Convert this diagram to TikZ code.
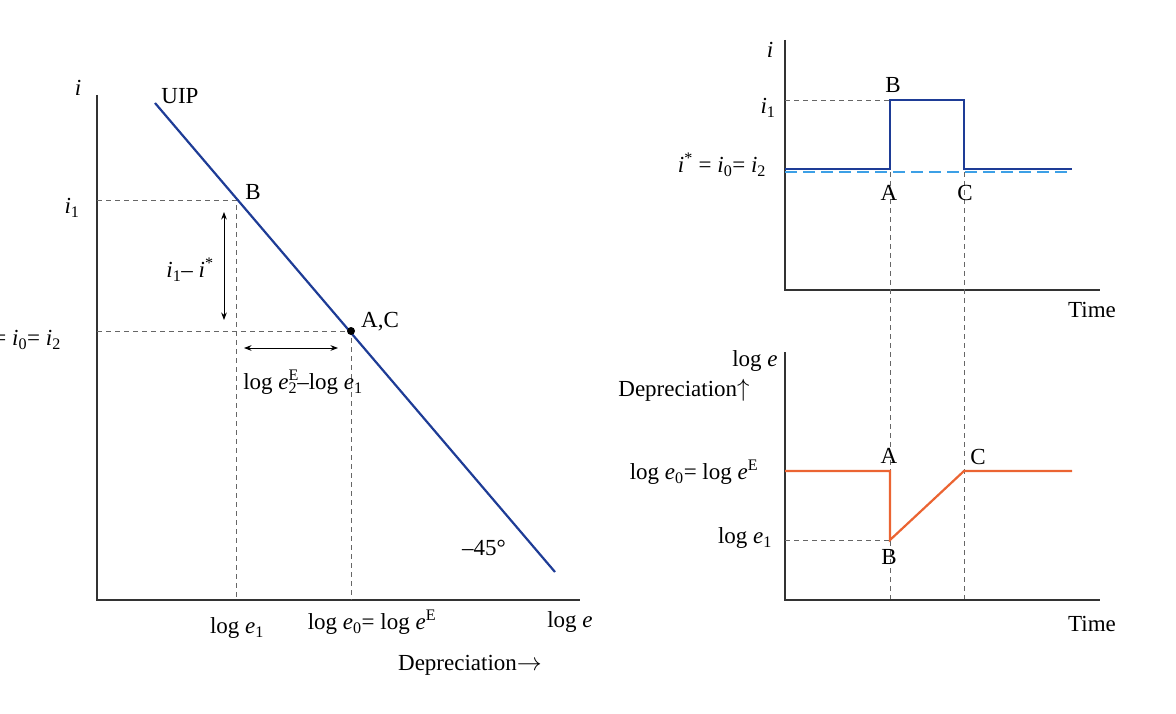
\documentclass[tikz,border=0pt]{standalone}
\usepackage{fontspec}
\setmainfont{Liberation Serif}
\usetikzlibrary{arrows.meta}
\newcommand{\lo}[1]{\textsubscript{#1}}
\newcommand{\hi}[1]{\textsuperscript{#1}}
\newcommand{\vi}{\textit{i}}
\newcommand{\ve}{\textit{e}}
\begin{document}
\begin{tikzpicture}[x=1pt,y=-1pt,font=\fontsize{23}{26}\selectfont,
 axis/.style={line width=1.3pt,black!80},
 guide/.style={dash pattern=on 5pt off 4pt,gray!80!black,line width=0.9pt},
 blueline/.style={line width=2.2pt,color={rgb,255:red,30;green,60;blue,150}},
 orangeline/.style={line width=2.2pt,color={rgb,255:red,235;green,100;blue,50}},
 dbl/.style={{Stealth}-{Stealth},line width=1pt},
 lab/.style={inner sep=1pt}]
\useasboundingbox (0,0) rectangle (1176,714);
% left panel
\coordinate (o) at (97,600);
\coordinate (yt) at (97,95);
\coordinate (xr) at (580,600);
\draw[axis] (yt) -- (o) -- (xr);
\coordinate (u1) at (155,103); \coordinate (u2) at (555,572);
\coordinate (B) at (236,200); \coordinate (AC) at (351,331);
\draw[guide] (97,200) -- (B) -- (236,600);
\draw[guide] (97,331) -- (AC) -- (351,600);
\draw[blueline] (u1) -- (u2);
\fill (AC) circle (4);
\coordinate (va) at (224,212); \coordinate (vb) at (224,320);
\draw[dbl] (va) -- (vb);
\coordinate (ha) at (244,348); \coordinate (hb) at (338,348);
\draw[dbl] (ha) -- (hb);
\node[lab] (li) at (78,88) {\vi};
\node[lab] (luip) at (180,96) {UIP};
\node[lab] (lB) at (253,192) {B};
\node[lab] (lAC) at (380,322) {A,C};
\node[lab] (li1) at (72,208) {\vi\lo{1}};
\node[lab,anchor=east] (listar) at (62,340) {= \vi\lo{0}= \vi\lo{2}};
\node[lab] (ldiff) at (190,270) {\vi\lo{1}– \vi\hi{*}};
\node[lab] (llog) at (303,382) {log \ve\rlap{\hi{E}}\lo{2}–log \ve\lo{1}};
\node[lab] (l45) at (484,548) {–45°};
\node[lab] (le1) at (237,628) {log \ve\lo{1}};
\node[lab] (le0) at (372,622) {log \ve\lo{0}= log \ve\hi{E}};
\node[lab] (le) at (570,622) {log \ve};
\node[lab] (ldep) at (470,665) {Depreciation$\rightarrow$};
% right top
\draw[axis] (785,40) -- (785,290) -- (1100,290);
\draw[guide] (785,100) -- (890,100);
\draw[guide] (890,172) -- (890,600);
\draw[guide] (964,172) -- (964,600);
\draw[dash pattern=on 12pt off 6pt,line width=2pt,color={rgb,255:red,60;green,160;blue,230}] (785,172) -- (1072,172);
\draw[blueline] (785,169) -- (890,169) -- (890,100) -- (964,100) -- (964,169) -- (1072,169);
\node[lab] at (770,50) {\vi};
\node[lab] at (768,108) {\vi\lo{1}};
\node[lab] at (722,165) {\vi\hi{*} = \vi\lo{0}= \vi\lo{2}};
\node[lab] at (893,85) {B};
\node[lab] at (889,193) {A};
\node[lab] at (965,193) {C};
\node[lab] at (1092,310) {Time};
% right bottom
\draw[axis] (785,352) -- (785,600) -- (1100,600);
\draw[guide] (785,540) -- (890,540);
\draw[orangeline] (785,471) -- (890,471) -- (890,540) -- (964,471) -- (1072,471);
\node[lab] at (755,361) {log \ve};
\node[lab] at (684,390) {Depreciation$\uparrow$};
\node[lab] at (694,472) {log \ve\lo{0}= log \ve\hi{E}};
\node[lab] at (745,538) {log \ve\lo{1}};
\node[lab] at (889,456) {A};
\node[lab] at (978,457) {C};
\node[lab] at (889,557) {B};
\node[lab] at (1092,624) {Time};
\end{tikzpicture}
\end{document}
